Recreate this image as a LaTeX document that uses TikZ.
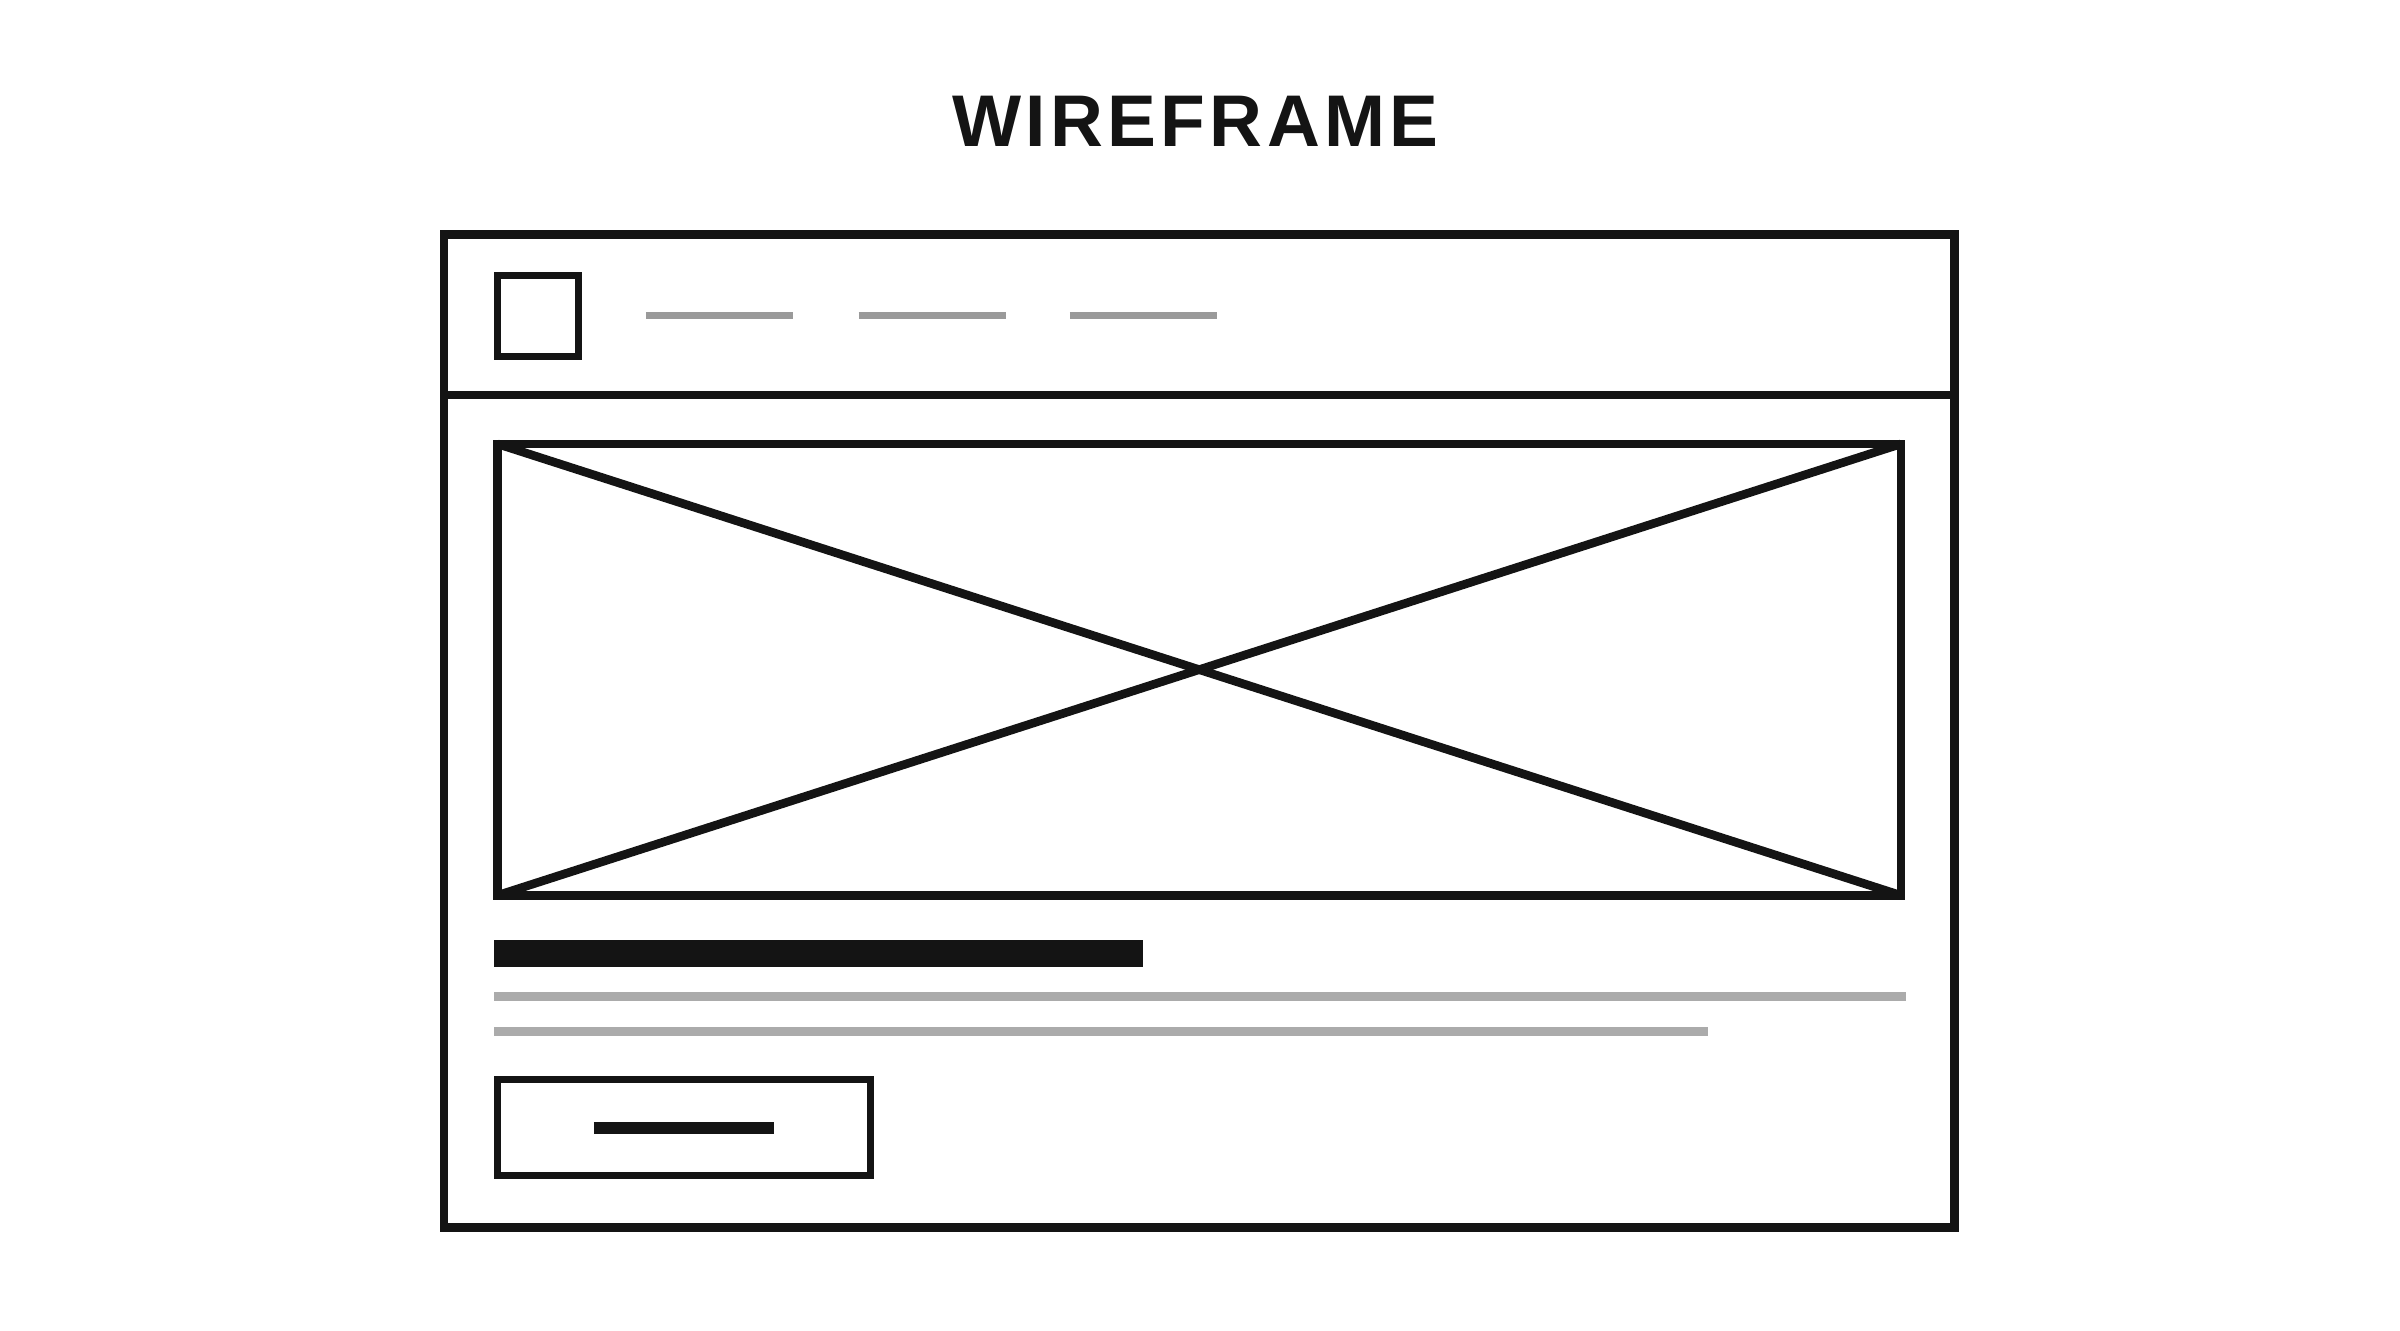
\documentclass[tikz,border=0pt]{standalone}
\usepackage{fontspec}
\setsansfont{Liberation Sans}[LetterSpace=6]
\usepackage{tikz}
\definecolor{ink}{HTML}{141414}
\definecolor{navgray}{HTML}{9A9A9A}
\definecolor{txtgray}{HTML}{ABABAB}
\tikzset{
  frame/.style={draw=ink, line width=1.6pt},
  thinframe/.style={draw=ink, line width=1.3pt},
  navline/.style={draw=navgray, line width=1.4pt},
  txtline/.style={draw=txtgray, line width=1.7pt}
}
\begin{document}
\begin{tikzpicture}[x=0.01cm, y=-0.01cm]
\useasboundingbox (0,0) rectangle (1568,869);
\node[font=\sffamily\bfseries\fontsize{13.6}{16}\selectfont, text=ink] (title) at (781,79) {WIREFRAME};
% browser frame
\draw[frame] (290,153) rectangle (1277,802);
\draw[frame] (290,258) -- (1277,258);
% header
\draw[thinframe] (325,180) rectangle (378,233);
\draw[navline] (422,206) -- (518,206);
\draw[navline] (561,206) -- (657,206);
\draw[navline] (699,206) -- (795,206);
% image placeholder
\draw[frame] (325,290) rectangle (1242,585);
\draw[frame] (325,290) -- (1242,585);
\draw[frame] (325,585) -- (1242,290);
% text block
\fill[ink] (323,614) rectangle (747,632);
\draw[txtline] (323,651) -- (1245,651);
\draw[txtline] (323,674) -- (1116,674);
% button
\draw[thinframe] (325,705) rectangle (569,768);
\draw[ink, line width=2.1pt] (388,737) -- (506,737);
\end{tikzpicture}
\end{document}
